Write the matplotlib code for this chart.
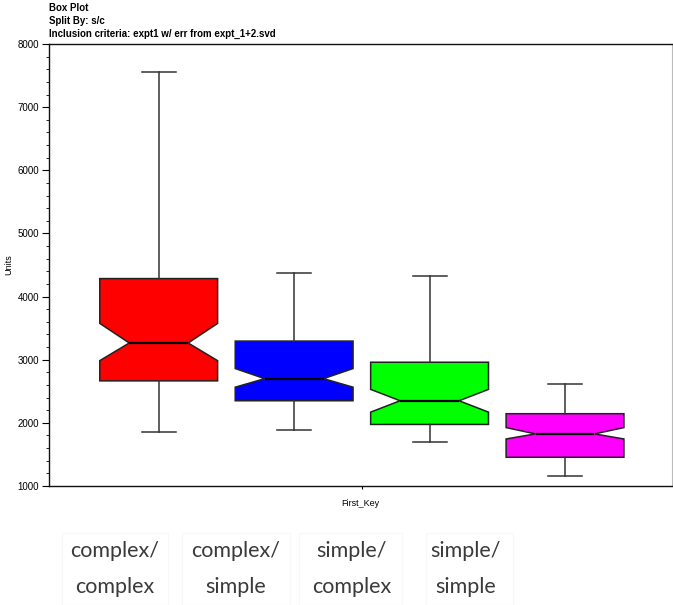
import matplotlib
matplotlib.use("Agg")
import matplotlib.pyplot as plt
from matplotlib.ticker import MultipleLocator

# ---------- DATA ----------
groups = ["complex/\ncomplex", "complex/\nsimple", "simple/\ncomplex", "simple/\nsimple"]
colors = ["#ff0000", "#0000ff", "#00ff00", "#ff00ff"]
whis_lo = [1850, 1890, 1695, 1160]
q1 = [2665, 2350, 1975, 1455]
medians = [3265, 2700, 2350, 1825]
q3 = [4285, 3295, 2960, 2145]
whis_hi = [7560, 4375, 4330, 2610]
ci_lo = [2985, 2565, 2170, 1745]
ci_hi = [3575, 2860, 2530, 1925]

stats = []
for i in range(len(groups)):
    stats.append({"whislo": whis_lo[i], "q1": q1[i], "med": medians[i],
                  "q3": q3[i], "whishi": whis_hi[i],
                  "cilo": ci_lo[i], "cihi": ci_hi[i], "fliers": []})

plt.rcParams["font.family"] = ["Liberation Sans", "DejaVu Sans"]

fig = plt.figure(figsize=(6.73, 6.05), dpi=100)
ax = fig.add_axes([49 / 673, 1 - 486 / 605, 623 / 673, 442 / 605])

# ---------- BOXES ----------
res = ax.bxp(stats, positions=[1, 2, 3, 4], widths=0.87, capwidths=0.25,
             shownotches=True, patch_artist=True, showfliers=False,
             boxprops=dict(edgecolor="#222222", linewidth=1.1),
             whiskerprops=dict(color="#333333", linewidth=1.1),
             capprops=dict(color="#333333", linewidth=1.1),
             medianprops=dict(color="black", linewidth=1.6))
for patch, c in zip(res["boxes"], colors):
    patch.set_facecolor(c)

ax.set_xlim(0.19, 4.79)
ax.set_ylim(1000, 8000)

# ---------- AXES STYLE ----------
ax.yaxis.set_major_locator(MultipleLocator(1000))
ax.yaxis.set_minor_locator(MultipleLocator(200))
ax.tick_params(axis="y", which="major", length=5, width=0.8, labelsize=7, pad=2)
ax.tick_params(axis="y", which="minor", length=2.5, width=0.6)
ax.set_xticks([2.5])
ax.set_xticklabels([""])
ax.tick_params(axis="x", length=2, width=0.8)
for s in ["left", "bottom", "top"]:
    ax.spines[s].set_color("#111111")
    ax.spines[s].set_linewidth(1.0)
ax.spines["right"].set_color("#bbbbbb")
ax.set_ylabel("Units", fontsize=6.5, labelpad=2)
ax.yaxis.set_label_coords(-0.058, 0.5)
ax.set_xlabel("First_Key", fontsize=6.5, labelpad=4)

# ---------- TITLE ----------
fig.text(49 / 673, 1 - 8 / 605, "Box Plot", fontsize=7, fontweight="bold", va="center")
fig.text(49 / 673, 1 - 21 / 605, "Split By: s/c", fontsize=7, fontweight="bold", va="center")
fig.text(49 / 673, 1 - 34 / 605,
         "Inclusion criteria: expt1 w/ err from expt_1+2.svd",
         fontsize=7, fontweight="bold", va="center")

# ---------- CATEGORY LABELS ----------
label_x = [115, 236, 352, 466]
box_l = [62, 182, 299, 426]
box_r = [168, 290, 402, 513]
for x, g, l, r in zip(label_x, groups, box_l, box_r):
    fig.patches.append(plt.Rectangle((l / 673, 0), (r - l) / 673, 72 / 605,
                                     transform=fig.transFigure, fill=False,
                                     edgecolor="#f8f8f8", linewidth=0.8))
    fig.text(x / 673, 1 - 569 / 605, g, ha="center", va="center",
             fontsize=15.5, color="#3a3a3a", family="Lato",
             fontweight="normal", linespacing=2.05)

fig.savefig("out.png", dpi=100)
